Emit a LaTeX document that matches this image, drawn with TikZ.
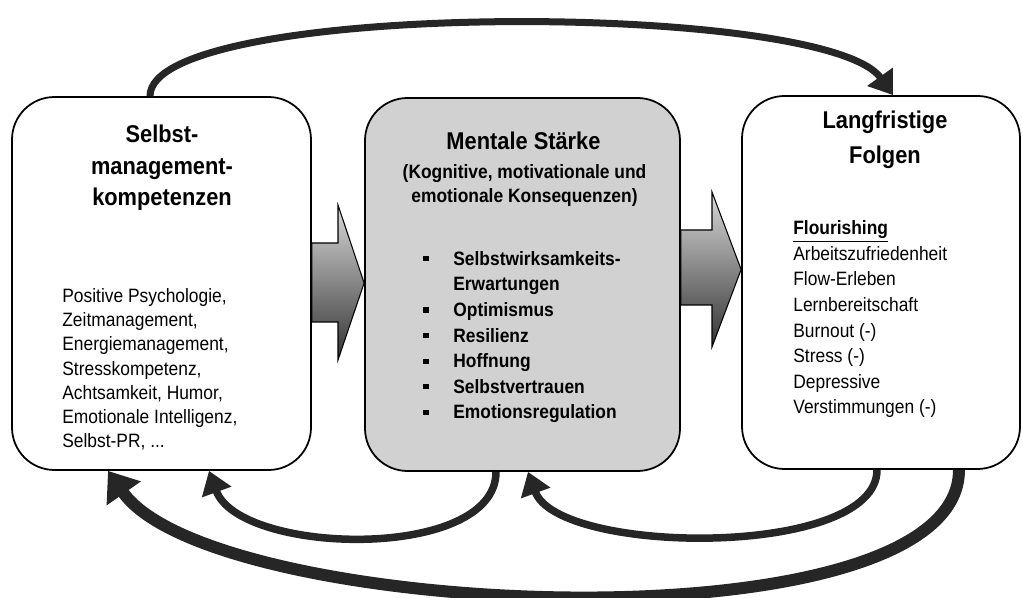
\documentclass[tikz,border=0pt]{standalone}
\usepackage{fontspec}
\setmainfont{Liberation Sans}[FakeStretch=0.9]
\usepackage{tikz}
\usetikzlibrary{arrows.meta}
\usetikzlibrary{calc}

\newcommand{\listbullet}{\makebox[0.6cm][l]{\rule[0.2em]{3pt}{3pt}}}

\begin{document}
\begin{tikzpicture}[
    box/.style={draw, line width=1pt, rounded corners=0.85cm, minimum height=7.46cm},
    titletext/.style={align=center, inner sep=0, anchor=base, font=\fontsize{13.8}{18}\selectfont\bfseries},
    listtext/.style={align=left, inner sep=0, anchor=base west, font=\fontsize{11}{14.6}\selectfont},
    blockarrow/.style={draw, line width=0.6pt, shading=axis, top color=black!15, bottom color=black!80},
    feedback/.style={draw=black!85, line width=0.15cm, -{Triangle[length=0.45cm,width=0.6cm]}}
  ]
      \useasboundingbox (0,0) rectangle (20.46,-11.96);
      \node[box, minimum width=5.98cm] (selbst) at (3.23,-5.67) {};
      \node[box, minimum width=6.3cm, fill=black!18] (mental) at (10.45,-5.69) {};
      \node[box, minimum width=5.56cm] (folgen) at (17.62,-5.65) {};

      \node[titletext] (selbsttitel) at (3.24,-4.12) {Selbst-\\management-\\kompetenzen};
      \node[listtext, font=\fontsize{11}{13.8}\selectfont] (selbstliste) at (1.24,-8.96) {Positive Psychologie,\\Zeitmanagement,\\Energiemanagement,\\Stresskompetenz,\\Achtsamkeit, Humor,\\Emotionale Intelligenz,\\Selbst-PR, ...};

      \node[titletext] (mentaltitel) at (10.47,-3.0) {Mentale Stärke};
      \node[titletext, font=\fontsize{11}{14.2}\selectfont\bfseries] (mentalsub) at (10.49,-4.06) {(Kognitive, motivationale und\\emotionale Konsequenzen)};
      \node[listtext, font=\fontsize{11}{14.6}\selectfont\bfseries] (mentalliste) at (8.46,-8.38) {\listbullet Selbstwirksamkeits-\\\hspace*{0.6cm}Erwartungen\\\listbullet Optimismus\\\listbullet Resilienz\\\listbullet Hoffnung\\\listbullet Selbstvertrauen\\\listbullet Emotionsregulation};

      \node[titletext, font=\fontsize{13.8}{20.4}\selectfont\bfseries] (folgentitel) at (17.7,-3.28) {Langfristige\\Folgen};
      \node[listtext] (folgenliste) at (15.86,-8.28) {\textbf{\underline{Flourishing}}\\Arbeitszufriedenheit\\Flow-Erleben\\Lernbereitschaft\\Burnout (-)\\Stress (-)\\Depressive\\Verstimmungen (-)};

      \path[blockarrow] (selbst.east |- 0,-4.86) -- (6.76,-4.86) -- (6.76,-4.1) -- (mental.west |- 0,-5.66) -- (6.76,-7.2) -- (6.76,-6.44) -- (selbst.east |- 0,-6.44) -- cycle;
      \path[blockarrow] (mental.east |- 0,-4.6) -- (14.24,-4.6) -- (14.24,-3.84) -- (folgen.west |- 0,-5.39) -- (14.24,-6.94) -- (14.24,-6.1) -- (mental.east |- 0,-6.1) -- cycle;

      \draw[feedback, line width=0.14cm] (selbst.north -| 3.0,0) .. controls (3.0,0) and (16.5,0) .. (folgen.north -| 17.86,0);
      \draw[feedback] (mental.south -| 9.92,0) to[out=-90,in=-70,looseness=0.8] (selbst.south -| 4.18,0);
      \draw[feedback] (folgen.south -| 17.54,0) to[out=-90,in=-70,looseness=0.65] (mental.south -| 10.56,0);
      \draw[feedback, line width=0.24cm, -{Triangle[length=0.55cm,width=0.8cm]}] (folgen.south -| 19.18,0) to[out=-90,in=-55,looseness=0.55] (selbst.south -| 2.16,0);
    \end{tikzpicture}
\end{document}
